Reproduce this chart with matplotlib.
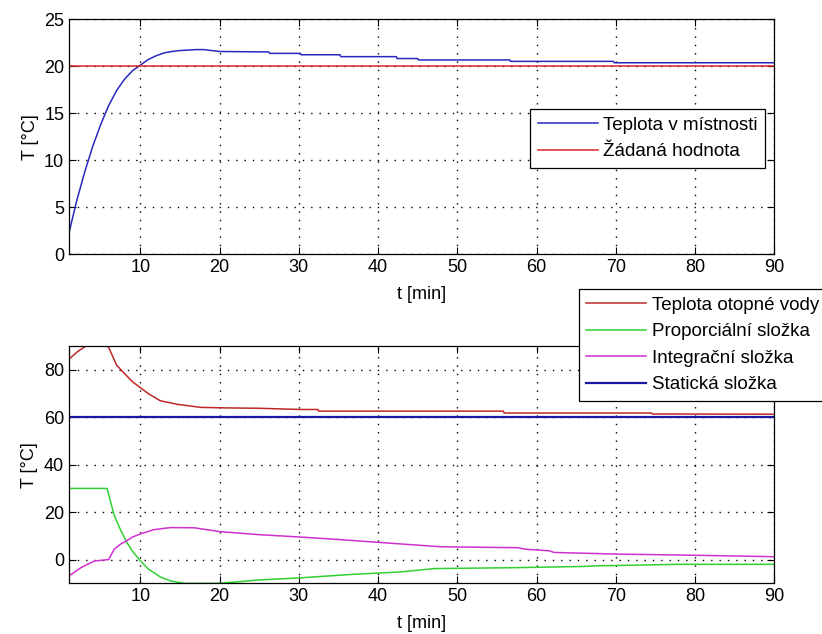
import numpy as np
import matplotlib.pyplot as plt

plt.rcParams['font.family'] = ['Liberation Sans', 'DejaVu Sans']
plt.rcParams['font.size'] = 13

# top: room temperature vs setpoint
t_room = [1, 2, 3, 4, 5, 6, 7, 8, 9, 10, 11, 12, 13, 14, 15, 16, 17, 18, 19, 20,
          26.2, 26.3, 30.2, 30.3, 35.2, 35.3, 42.3, 42.4, 45, 45.1, 56.6, 56.7, 69.7, 69.8, 90]
T_room = [2.3, 5.8, 8.8, 11.5, 13.8, 15.8, 17.4, 18.6, 19.5, 20.1, 20.7, 21.1, 21.4, 21.55, 21.65, 21.7, 21.75, 21.75, 21.65, 21.55,
          21.5, 21.35, 21.35, 21.2, 21.2, 21.0, 21.0, 20.8, 20.8, 20.65, 20.65, 20.5, 20.5, 20.35, 20.35]
t_set = [1, 90]
T_set = [20, 20]

# bottom: water temperature and controller components
t_water = [1, 2, 3, 4, 5, 6, 7, 7.7, 9, 10, 11, 12.5, 14.6, 17.6, 20, 25, 30.2, 32.4, 32.5, 55.8, 55.9, 74.5, 74.6, 90]
T_water = [84.5, 87.5, 89.8, 91.5, 91.5, 89.5, 82, 79.5, 75, 72.5, 70, 67, 65.5, 64.2, 64, 63.8, 63.3, 63.3, 62.6, 62.6, 61.8, 61.8, 61.4, 61.3]
t_p = [1, 5.8, 6.7, 7.5, 8.3, 9, 10, 11, 11.7, 12.5, 13.8, 15.5, 20, 25, 30.2, 36.5, 42.9, 47.1, 57.6, 65.9, 68, 70, 78, 90]
P = [30, 30, 18.6, 12.5, 7.2, 3.5, -0.5, -4, -5.5, -7.3, -9, -10, -10, -8.6, -7.7, -6.3, -5.2, -3.8, -3.4, -2.9, -2.6, -2.5, -2, -2]
t_i = [1, 2.5, 4.2, 6, 6.7, 7.5, 8.3, 9, 10, 11.7, 13.8, 16.8, 20, 25, 30.2, 34.4, 40.7, 47.9, 57.6, 58.8, 61.6, 62.2, 70.3, 78.4, 88.6, 90]
I = [-6.9, -3.4, -0.6, 0, 4.4, 6.5, 8, 9.5, 10.8, 12.6, 13.5, 13.4, 11.8, 10.5, 9.5, 8.6, 7.1, 5.4, 5.0, 4.3, 3.7, 3.0, 2.3, 1.9, 1.3, 1.2]
t_s = [1, 90]
S = [60.2, 60.2]

fig = plt.figure(figsize=(8.22, 6.34), dpi=100)
ax1 = fig.add_axes([0.084, 0.599, 0.858, 0.371])
ax2 = fig.add_axes([0.084, 0.080, 0.858, 0.374])

leg_kw = dict(loc='upper right', fancybox=False, edgecolor='black', framealpha=1,
              fontsize=13.5, handlelength=3.2, borderpad=0.4, labelspacing=0.5,
              handletextpad=0.3, borderaxespad=0)

ax1.plot(t_room, T_room, color='#2828c0', lw=1.1, label='Teplota v místnosti')
ax1.plot(t_set, T_set, color='#d82828', lw=1.1, label='Žádaná hodnota')
ax1.set_xlim(1, 90)
ax1.set_ylim(0, 25)
ax1.set_xticks(np.arange(10, 91, 10))
ax1.set_yticks(np.arange(0, 26, 5))
ax1.set_xlabel('t [min]', labelpad=7)
ax1.set_ylabel('T [°C]')
leg1 = ax1.legend(bbox_to_anchor=(0.987, 0.617), **leg_kw)
leg1.get_frame().set_linewidth(0.9)

ax2.plot(t_water, T_water, color='#c02828', lw=1.1, label='Teplota otopné vody')
ax2.plot(t_p, P, color='#30d030', lw=1.1, label='Proporciální složka')
ax2.plot(t_i, I, color='#d030d0', lw=1.1, label='Integrační složka')
ax2.plot(t_s, S, color='#1818a0', lw=1.6, label='Statická složka')
ax2.set_xlim(1, 90)
ax2.set_ylim(-10, 90)
ax2.set_xticks(np.arange(10, 91, 10))
ax2.set_yticks(np.arange(0, 81, 20))
ax2.set_xlabel('t [min]', labelpad=7)
ax2.set_ylabel('T [°C]')
leg2 = ax2.legend(bbox_to_anchor=(1.074, 1.24), **leg_kw)
leg2.get_frame().set_linewidth(0.9)

for ax in (ax1, ax2):
    ax.grid(True, linestyle=(0, (1, 5)), color='black', linewidth=1.0)
    ax.tick_params(direction='in', top=True, right=True, length=5, labelsize=13)
    for s in ax.spines.values():
        s.set_linewidth(0.9)

fig.savefig('out.png', dpi=100)
